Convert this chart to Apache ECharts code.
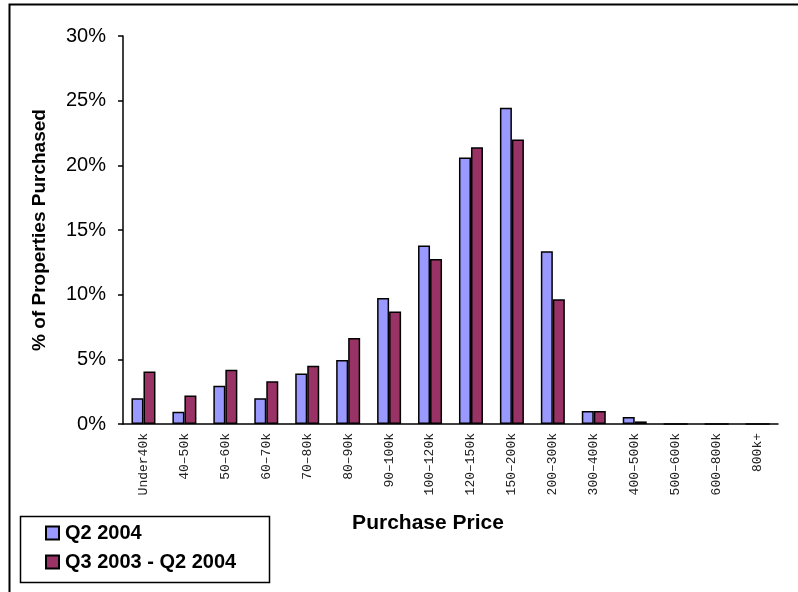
<!DOCTYPE html>
<html>
<head>
    <meta charset="utf-8">
    <title>Purchase Price</title>
    <script src="https://cdn.jsdelivr.net/npm/echarts@6/dist/echarts.min.js"></script>
    <style>
        * {
            margin: 0;
            padding: 0
        }

        html, body {
            width: 100%;
            height: 100%;
            background: #fff;
        }

        #main {
            width: 798px;
            height: 592px;
        }
    </style>
</head>
<body>
<div id="main"></div>
</body>

<script type="text/javascript">
    /*--------------------数据-----------------------------*/
    var categories = ['Under40k', '40–50k', '50–60k', '60–70k', '70–80k', '80–90k', '90–100k', '100–120k',
        '120–150k', '150–200k', '200–300k', '300–400k', '400–500k', '500–600k', '600–800k', '800k+'];
    var seriesNames = ['Q2 2004', 'Q3 2003 - Q2 2004'];
    var q2_2004 = [2.0, 0.95, 2.95, 2.0, 3.9, 4.95, 9.75, 13.8, 20.6, 24.45, 13.35, 1.0, 0.55, 0, 0, 0];
    var q3_2003_q2_2004 = [4.05, 2.2, 4.2, 3.3, 4.5, 6.65, 8.7, 12.75, 21.4, 22.0, 9.65, 1.0, 0.2, 0, 0, 0];
    var yTicks = [0, 5, 10, 15, 20, 25, 30];

    var colors = ['#9999FF', '#993366'];
    var sans = '"Liberation Sans", Arial, sans-serif';

    var chart = echarts.init(document.getElementById('main'));
    chart.setOption({
        animation: false,
        backgroundColor: '#fff',
        grid: {
            left: 123,
            top: 36,
            width: 655,
            height: 388
        },
        // 外框、图例框、x轴标题
        graphic: [
            {
                type: 'rect',
                shape: {x: 9.5, y: 4.5, width: 800, height: 600},
                style: {fill: 'none', stroke: '#000', lineWidth: 2}
            },
            {
                type: 'rect',
                shape: {x: 20.5, y: 516.5, width: 249, height: 66},
                style: {fill: '#fff', stroke: '#000', lineWidth: 1.5}
            },
            {
                type: 'text',
                x: 428,
                y: 523,
                style: {
                    text: 'Purchase Price',
                    font: 'bold 21px ' + sans,
                    fill: '#000',
                    align: 'center',
                    verticalAlign: 'middle'
                }
            }
        ],
        legend: {
            orient: 'vertical',
            left: 40,
            top: 518,
            itemWidth: 13,
            itemHeight: 13,
            itemGap: 9,
            icon: 'rect',
            data: seriesNames,
            textStyle: {
                fontFamily: sans,
                fontWeight: 'bold',
                fontSize: 20,
                color: '#000',
                padding: [0, 0, 0, 1]
            }
        },
        xAxis: {
            type: 'category',
            data: categories,
            axisLine: {lineStyle: {color: '#000', width: 1.5}},
            axisTick: {length: 5, lineStyle: {color: '#000', width: 1.5}},
            axisLabel: {
                rotate: 90,
                margin: 9,
                fontFamily: '"Liberation Mono", "Courier New", monospace',
                fontSize: 13,
                color: '#222'
            }
        },
        yAxis: {
            type: 'value',
            min: yTicks[0],
            max: yTicks[yTicks.length - 1],
            interval: 5,
            name: '% of Properties Purchased',
            nameLocation: 'middle',
            nameGap: 74,
            nameRotate: 90,
            nameTextStyle: {
                fontFamily: sans,
                fontWeight: 'bold',
                fontSize: 19,
                color: '#000'
            },
            axisLine: {show: true, lineStyle: {color: '#000', width: 1.5}},
            axisTick: {show: true, length: 5, lineStyle: {color: '#000', width: 1.5}},
            splitLine: {show: false},
            axisLabel: {
                margin: 17,
                fontFamily: sans,
                fontSize: 20,
                color: '#000',
                formatter: '{value}%'
            }
        },
        series: [
            {
                name: seriesNames[0],
                type: 'bar',
                data: q2_2004,
                barWidth: 12,
                barGap: '0%',
                itemStyle: {color: colors[0], borderColor: '#000', borderWidth: 1.5}
            },
            {
                name: seriesNames[1],
                type: 'bar',
                data: q3_2003_q2_2004,
                barWidth: 12,
                barGap: '0%',
                itemStyle: {color: colors[1], borderColor: '#000', borderWidth: 1.5}
            }
        ]
    });
</script>
</html>
